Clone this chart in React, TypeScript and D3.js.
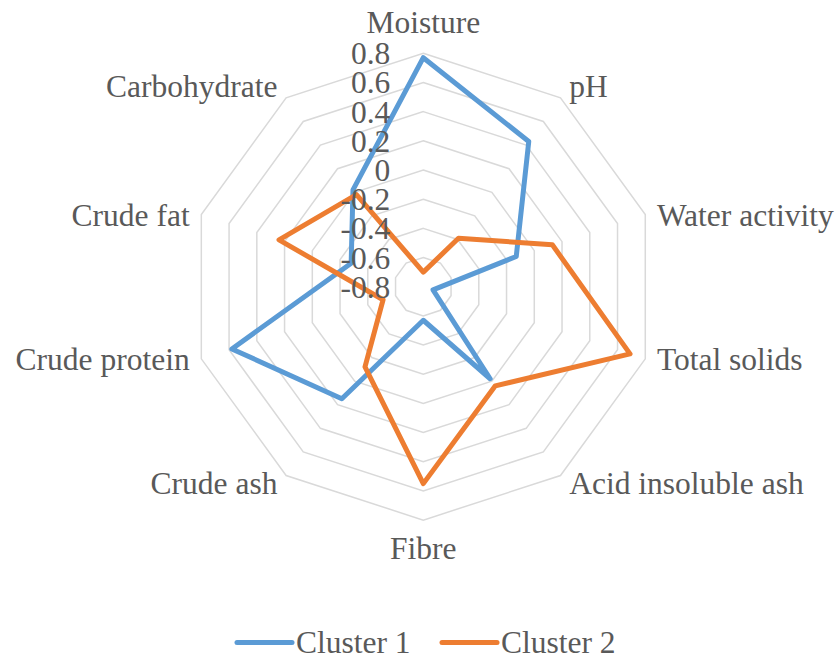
import * as d3 from "d3";

const categories = [
  "Moisture",
  "pH",
  "Water activity",
  "Total solids",
  "Acid insoluble ash",
  "Fibre",
  "Crude ash",
  "Crude protein",
  "Crude fat",
  "Carbohydrate",
];
const cluster1 = [0.77, 0.43, -0.13, -0.73, -0.02, -0.57, 0.15, 0.58, -0.28, 0.02];
const cluster2 = [-0.7, -0.39, 0.13, 0.69, 0.04, 0.55, -0.12, -0.51, 0.24, -0.02];
const tickValues = [-0.8, -0.6, -0.4, -0.2, 0, 0.2, 0.4, 0.6, 0.8];
const tickLabels = ["-0.8", "-0.6", "-0.4", "-0.2", "0", "0.2", "0.4", "0.6", "0.8"];

const series = [
  { name: "Cluster 1", values: cluster1, color: "#5B9BD5" },
  { name: "Cluster 2", values: cluster2, color: "#ED7D31" },
];

const W = 839;
const H = 657;
const cx = 423.3;
const cy = 286.7;
const R = 233.4;
const font = "Times New Roman";
const textColor = "#595959";

export default function App() {
  const r = d3.scaleLinear().domain([-0.8, 0.8]).range([0, R]);
  const angle = d3
    .scalePoint<string>()
    .domain(categories)
    .range([0, 2 * Math.PI - (2 * Math.PI) / categories.length]);

  // grid rings (innermost value is the centre point)
  const ringLine = d3
    .lineRadial<string>()
    .angle((d) => angle(d)!)
    .curve(d3.curveLinearClosed);

  const seriesLine = d3
    .lineRadial<number>()
    .angle((_, i) => angle(categories[i])!)
    .radius((d) => r(d))
    .curve(d3.curveLinearClosed);

  // label placement around the outer ring, roughly like Excel does it
  const labelPos = (c: string) => {
    const a = angle(c)!;
    const s = Math.sin(a);
    const co = Math.cos(a);
    const vx = cx + R * s;
    const vy = cy - R * co;
    let anchor = "middle";
    let x = vx;
    if (s > 0.1) {
      anchor = "start";
      x = vx + 4 + 8 * s;
    } else if (s < -0.1) {
      anchor = "end";
      x = vx - 4 + 8 * s;
    }
    const off = co > 0.9 ? -20 : co > 0.5 ? -1 : co > -0.5 ? 11 : co > -0.9 ? 18 : 39;
    return { x, y: vy + off, anchor };
  };

  const txt = { fontFamily: font, fontSize: "31.5px", fill: textColor };

  return (
    <svg
      width={W}
      height={H}
      style={{ position: "absolute", left: 0, top: 0, background: "#fff" }}
    >
      <g transform={`translate(${cx},${cy})`}>
        {tickValues.slice(1).map((t) => (
          <path
            key={t}
            d={ringLine.radius(() => r(t))(categories) ?? ""}
            fill="none"
            stroke="#D9D9D9"
            strokeWidth={1.5}
          />
        ))}
        {series.map((s) => (
          <path
            key={s.name}
            d={seriesLine(s.values) ?? ""}
            fill="none"
            stroke={s.color}
            strokeWidth={5}
            strokeLinejoin="round"
          />
        ))}
      </g>

      {tickValues.map((t, i) => (
        <text key={t} x={cx - 33} y={cy - r(t) + 11} textAnchor="end" style={txt}>
          {tickLabels[i]}
        </text>
      ))}

      {categories.map((c) => {
        const p = labelPos(c);
        return (
          <text key={c} x={p.x} y={p.y} textAnchor={p.anchor} style={txt}>
            {c}
          </text>
        );
      })}

      {series.map((s, i) => {
        const lx = i === 0 ? 237 : 442;
        return (
          <g key={s.name}>
            <line
              x1={lx}
              x2={lx + 55}
              y1={642.5}
              y2={642.5}
              stroke={s.color}
              strokeWidth={5}
              strokeLinecap="round"
            />
            <text x={lx + 59} y={653} style={txt}>
              {s.name}
            </text>
          </g>
        );
      })}
    </svg>
  );
}
